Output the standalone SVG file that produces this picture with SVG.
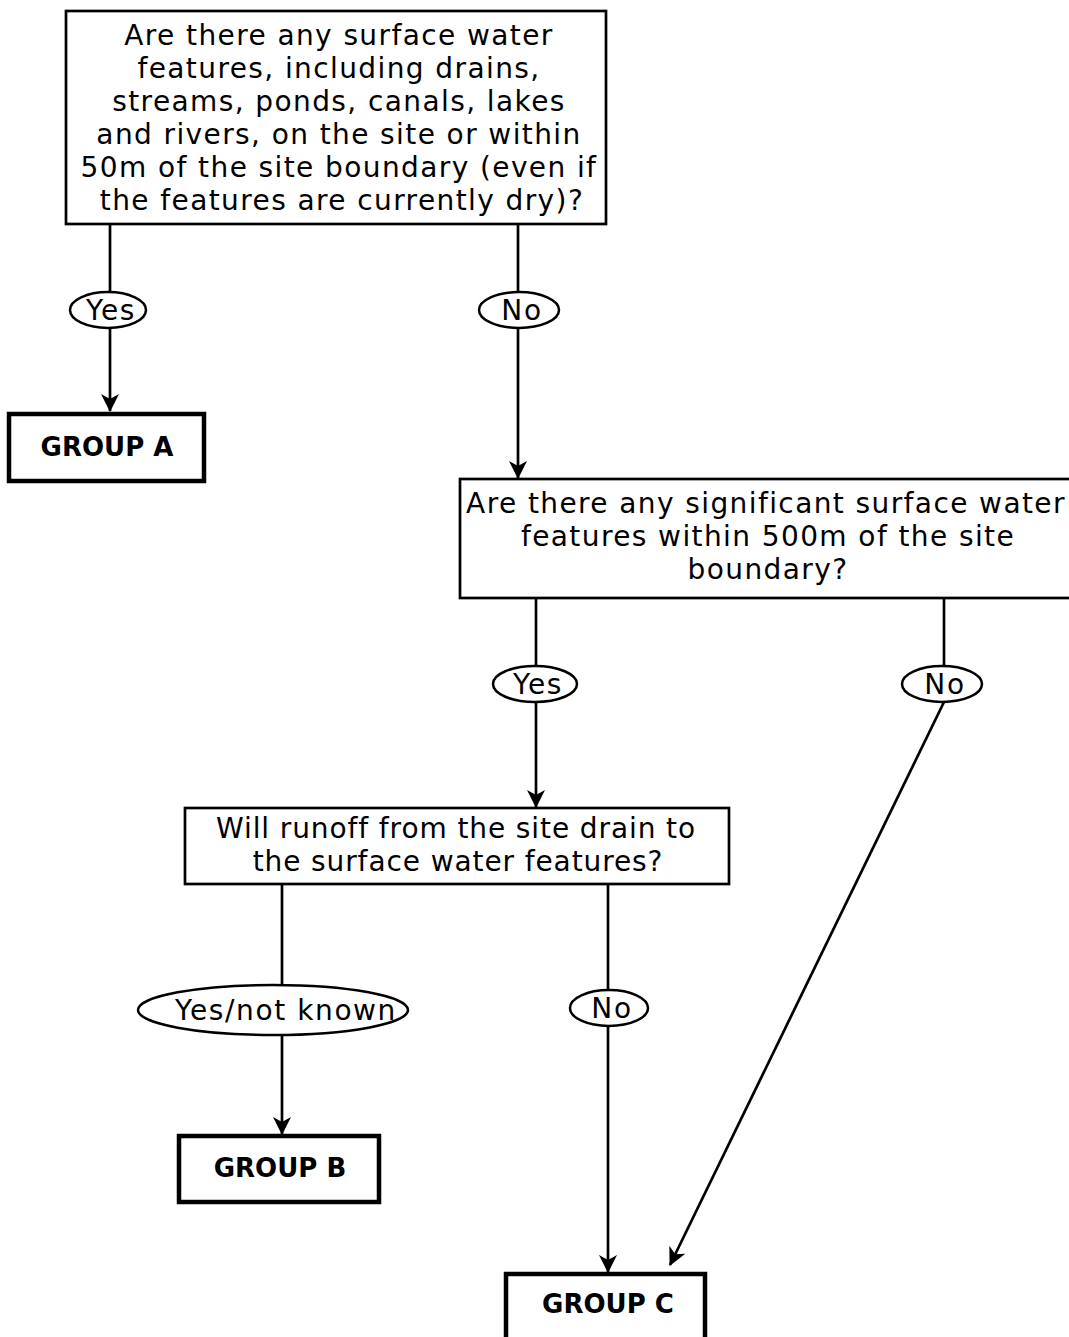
<svg xmlns="http://www.w3.org/2000/svg" width="1069" height="1337" viewBox="0 0 1069 1337">
  <style>
    .box { fill: #fff; stroke: #000; stroke-width: 2.7; }
    .term { fill: #fff; stroke: #000; stroke-width: 4.5; }
    .oval { fill: #fff; stroke: #000; stroke-width: 2.5; }
    .q { font-family: "DejaVu Sans", "Liberation Sans", sans-serif; font-size: 28px; letter-spacing: 1.4px; fill: #000; text-anchor: middle; }
    .q.tight { letter-spacing: 0.9px; }
    .lbl { font-family: "DejaVu Sans", "Liberation Sans", sans-serif; font-size: 28px; letter-spacing: 1.6px; fill: #000; text-anchor: middle; }
    .grp { font-family: "DejaVu Sans", "Liberation Sans", sans-serif; font-size: 26px; font-weight: bold; fill: #000; text-anchor: middle; }
    .wire { fill: none; stroke: #000; stroke-width: 2.7; }
  </style>
  <defs>
    <marker id="arrow" viewBox="0 0 18 18" refX="17" refY="9" markerWidth="18" markerHeight="18" markerUnits="userSpaceOnUse" orient="auto">
      <path d="M0,0 L18,9 L0,18 L5,9 Z" fill="#000"/>
    </marker>
  </defs>

  <rect width="1069" height="1337" fill="#fff"/>

  <!-- connectors -->
  <g id="connectors">
    <line class="wire" x1="110" y1="224" x2="110" y2="292"/>
    <line class="wire" x1="110" y1="328" x2="110" y2="411" marker-end="url(#arrow)"/>
    <line class="wire" x1="518" y1="224" x2="518" y2="292"/>
    <line class="wire" x1="518" y1="328" x2="518" y2="478" marker-end="url(#arrow)"/>
    <line class="wire" x1="536" y1="598" x2="536" y2="666"/>
    <line class="wire" x1="536" y1="702" x2="536" y2="807" marker-end="url(#arrow)"/>
    <line class="wire" x1="944" y1="598" x2="944" y2="666"/>
    <line class="wire" x1="944" y1="702" x2="670" y2="1265" marker-end="url(#arrow)"/>
    <line class="wire" x1="282" y1="884" x2="282" y2="985"/>
    <line class="wire" x1="282" y1="1035" x2="282" y2="1134" marker-end="url(#arrow)"/>
    <line class="wire" x1="608" y1="884" x2="608" y2="990"/>
    <line class="wire" x1="608" y1="1026" x2="608" y2="1272" marker-end="url(#arrow)"/>
  </g>

  <!-- first question -->
  <g id="q1">
    <rect class="box" x="66" y="11" width="540" height="213"/>
    <text class="q" x="339" y="45">Are there any surface water</text>
    <text class="q" x="339" y="78">features, including drains,</text>
    <text class="q" x="339" y="111">streams, ponds, canals, lakes</text>
    <text class="q" x="339" y="144">and rivers, on the site or within</text>
    <text class="q" x="339" y="177">50m of the site boundary (even if</text>
    <text class="q" x="342" y="210">the features are currently dry)?</text>
  </g>

  <g id="q1-yes">
    <ellipse class="oval" cx="108" cy="310" rx="38" ry="18"/>
    <text class="lbl" x="111" y="320">Yes</text>
  </g>
  <g id="q1-no">
    <ellipse class="oval" cx="519" cy="310" rx="40" ry="18"/>
    <text class="lbl" x="522" y="320">No</text>
  </g>

  <g id="group-a">
    <rect class="term" x="9" y="414" width="195" height="67"/>
    <text class="grp" x="107" y="456">GROUP A</text>
  </g>

  <!-- second question -->
  <g id="q2">
    <rect class="box" x="460" y="479" width="612" height="119"/>
    <text class="q" x="766" y="513">Are there any significant surface water</text>
    <text class="q" x="768" y="546">features within 500m of the site</text>
    <text class="q" x="768" y="579">boundary?</text>
  </g>

  <g id="q2-yes">
    <ellipse class="oval" cx="535" cy="684" rx="42" ry="18"/>
    <text class="lbl" x="538" y="694">Yes</text>
  </g>
  <g id="q2-no">
    <ellipse class="oval" cx="942" cy="684" rx="40" ry="18"/>
    <text class="lbl" x="945" y="694">No</text>
  </g>

  <!-- third question -->
  <g id="q3">
    <rect class="box" x="185" y="808" width="544" height="76"/>
    <text class="q tight" x="456" y="838">Will runoff from the site drain to</text>
    <text class="q tight" x="458" y="871">the surface water features?</text>
  </g>

  <g id="q3-yes">
    <ellipse class="oval" cx="273" cy="1010" rx="135" ry="25"/>
    <text class="lbl" x="286" y="1020">Yes/not known</text>
  </g>
  <g id="q3-no">
    <ellipse class="oval" cx="609" cy="1008" rx="39" ry="18"/>
    <text class="lbl" x="612" y="1018">No</text>
  </g>

  <g id="group-b">
    <rect class="term" x="179" y="1136" width="200" height="66"/>
    <text class="grp" x="280" y="1177">GROUP B</text>
  </g>

  <g id="group-c">
    <rect class="term" x="506" y="1274" width="199" height="66"/>
    <text class="grp" x="608" y="1313">GROUP C</text>
  </g>
</svg>
